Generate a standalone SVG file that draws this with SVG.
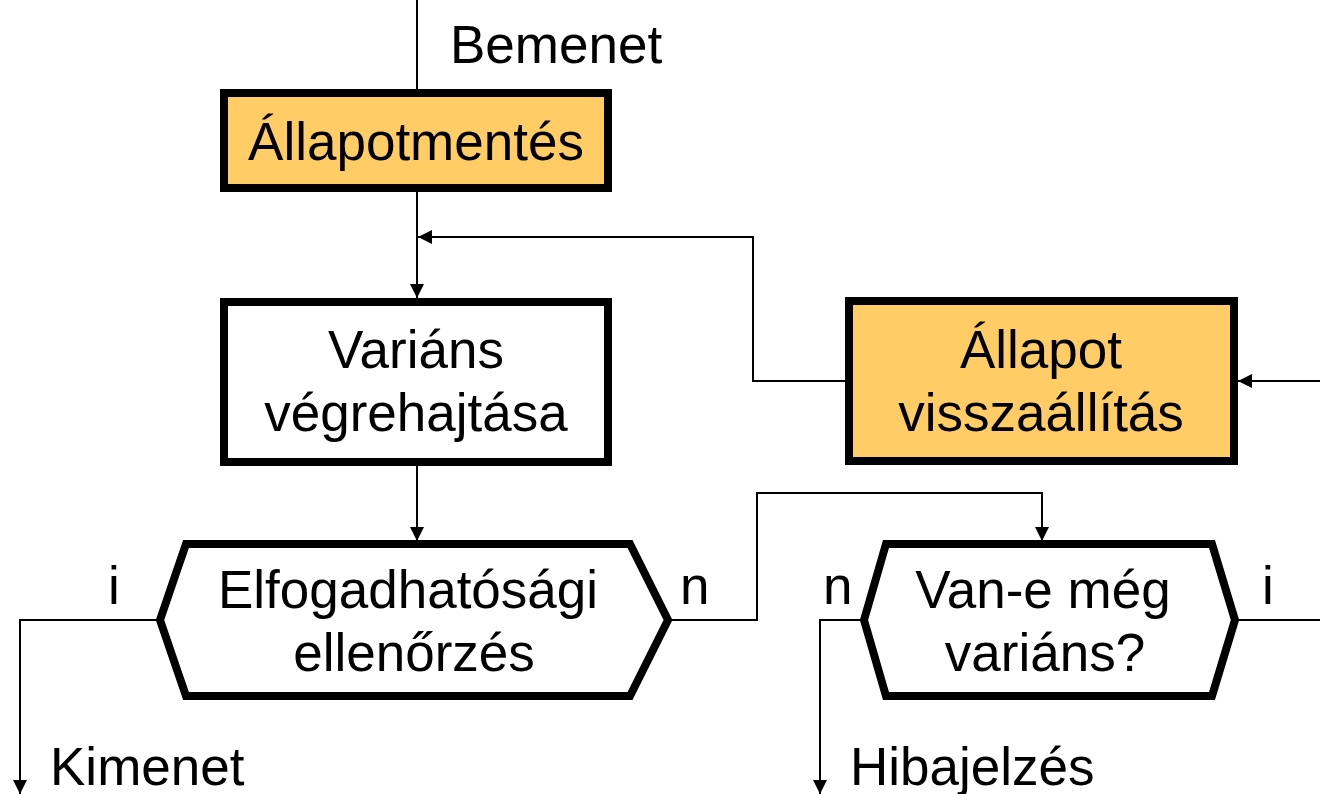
<svg xmlns="http://www.w3.org/2000/svg" width="1320" height="794" viewBox="0 0 1320 794">
<defs>
<marker id="arr" viewBox="0 0 14 14" refX="14" refY="7" markerWidth="14" markerHeight="14" markerUnits="userSpaceOnUse" orient="auto">
<path d="M0,0 L14,7 L0,14 Z" fill="#000"/>
</marker>
</defs>
<style>
.t{font-family:"Liberation Sans",Arial,sans-serif;font-size:53px;fill:#000}
.c{text-anchor:middle}
.box{stroke:#000;stroke-width:8}
.y{fill:#FFCC66}
.w{fill:#fff}
.ln{fill:none;stroke:#000;stroke-width:2}
</style>
<rect width="1320" height="794" fill="#fff"/>
<g id="connectors">
<path class="ln" d="M417,0 V89"/>
<path class="ln" d="M417,192 V298" marker-end="url(#arr)"/>
<path class="ln" d="M845,381 H753 V237 H418" marker-end="url(#arr)"/>
<path class="ln" d="M1320,381 H1238" marker-end="url(#arr)"/>
<path class="ln" d="M417,465 V541" marker-end="url(#arr)"/>
<path class="ln" d="M158,620 H20 V794" marker-end="url(#arr)"/>
<path class="ln" d="M670,620 H757 V493 H1042 V541" marker-end="url(#arr)"/>
<path class="ln" d="M862,620 H820 V794" marker-end="url(#arr)"/>
<path class="ln" d="M1237,620 H1320"/>
</g>
<g id="bemenet"><text class="t" x="450" y="63">Bemenet</text></g>
<g id="allapotmentes">
<rect class="box y" x="224" y="93" width="384" height="95"/>
<text class="t c" x="416" y="160">Állapotmentés</text>
</g>
<g id="varians">
<rect class="box w" x="224" y="302" width="384" height="160"/>
<text class="t c" x="416" y="368">Variáns</text>
<text class="t c" x="416" y="431">végrehajtása</text>
</g>
<g id="allapot">
<rect class="box y" x="849" y="301" width="385" height="160"/>
<text class="t c" x="1041" y="368">Állapot</text>
<text class="t c" x="1041" y="431">visszaállítás</text>
</g>
<g id="elfogadhatosag">
<polygon class="box w" points="160,620 186,544 630,544 668,620 630,696 186,696"/>
<text class="t c" x="408" y="608">Elfogadhatósági</text>
<text class="t c" x="414" y="671">ellenőrzés</text>
</g>
<g id="van-e">
<polygon class="box w" points="864,620 886,544 1212,544 1235,620 1212,696 886,696"/>
<text class="t c" x="1043" y="608">Van-e még</text>
<text class="t c" x="1045" y="671">variáns?</text>
</g>
<g id="labels">
<text class="t" x="108" y="604">i</text>
<text class="t" x="680" y="604">n</text>
<text class="t" x="823" y="604">n</text>
<text class="t" x="1262" y="604">i</text>
<text class="t" x="50" y="785">Kimenet</text>
<text class="t" x="850" y="785">Hibajelzés</text>
</g>
</svg>
